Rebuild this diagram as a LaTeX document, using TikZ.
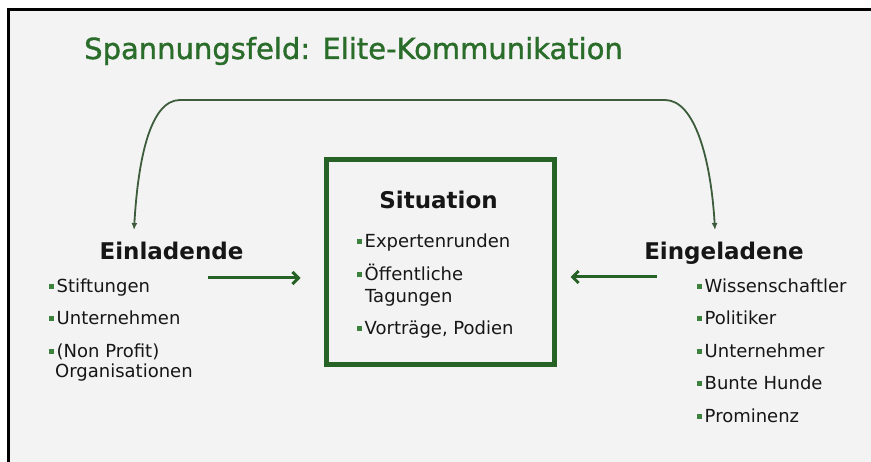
\documentclass[tikz,border=0pt]{standalone}
\usepackage{fontspec}
\setmainfont{DejaVu Sans}
\newfontfamily\titlefont[FakeBold=1.2]{DejaVu Sans}
\usepackage{xcolor}
\usetikzlibrary{arrows.meta}

\definecolor{titlegreen}{RGB}{42,108,42}
\definecolor{boxgreen}{RGB}{38,98,38}
\definecolor{curvegreen}{RGB}{60,92,60}
\definecolor{bulletgreen}{RGB}{60,130,60}
\definecolor{slidegray}{RGB}{243,243,243}
\definecolor{textgray}{RGB}{22,22,22}

\newcommand{\sq}{\textcolor{bulletgreen}{\rule[4pt]{4.5pt}{4.5pt}}\hspace{3pt}}

\begin{document}
\begin{tikzpicture}[x=1pt,y=-1pt,
    head/.style={font=\bfseries\fontsize{23}{23}\selectfont, text=textgray, anchor=base, inner sep=0pt},
    item/.style={font=\fontsize{18}{18}\selectfont, text=textgray, anchor=base west, inner sep=0pt},
    flow/.style={draw=boxgreen, line width=3pt, -{Straight Barb[length=6pt,width=12pt]}},
    overarc/.style={draw=curvegreen, line width=1.8pt, {Latex[length=7pt,width=6pt]}-{Latex[length=7pt,width=6pt]}}]
    \useasboundingbox (0,0) rectangle (871,462);
    \fill[white] (0,0) rectangle (871,462);
    \fill[slidegray] (8.7,9.7) rectangle (871,462);
    \draw[black, line width=3pt] (8.7,462) -- (8.7,9.7) -- (871,9.7);

    \node[anchor=base west, inner sep=0pt, text=titlegreen, font=\titlefont\fontsize{29}{29}\selectfont] (title) at (84,59) {Spannungsfeld: Elite-Kommunikation};

    \node[draw=boxgreen, line width=5pt, minimum width=228pt, minimum height=205pt, inner sep=0pt] (sit) at (440.5,262) {};
    \node[head] (sithead) at (438.5,209) {Situation};
    \node[item] (s1) at (357,248) {\sq Expertenrunden};
    \node[item] (s2) at (357,281) {\sq Öffentliche};
    \node[item] (s2b) at (365,303) {Tagungen};
    \node[item] (s3) at (357,335) {\sq Vorträge, Podien};

    \node[head] (einl) at (171.5,260) {Einladende};
    \node[item] (e1) at (49,293) {\sq Stiftungen};
    \node[item] (e2) at (49,325) {\sq Unternehmen};
    \node[item] (e3) at (49,358) {\sq (Non Profit)};
    \node[item] (e3b) at (55,378) {Organisationen};

    \node[head] (eing) at (724,260) {Eingeladene};
    \node[item] (g1) at (697,293) {\sq Wissenschaftler};
    \node[item] (g2) at (697,325) {\sq Politiker};
    \node[item] (g3) at (697,358) {\sq Unternehmer};
    \node[item] (g4) at (697,390) {\sq Bunte Hunde};
    \node[item] (g5) at (697,423) {\sq Prominenz};

    \coordinate (einltip) at (134,230);
    \coordinate (eingtip) at (715,230);
    \coordinate (einlout) at (208,278);
    \coordinate (eingout) at (657,277);

    \draw[flow, shorten >=23.5pt] (einlout) -- (einlout -| sit.west);
    \draw[flow, shorten >=13.5pt] (eingout) -- (eingout -| sit.east);

    \draw[overarc] (einltip) .. controls (138,160) and (150,100) .. (180,100)
        -- (665,100) .. controls (695,100) and (711,160) .. (eingtip);
\end{tikzpicture}
\end{document}
